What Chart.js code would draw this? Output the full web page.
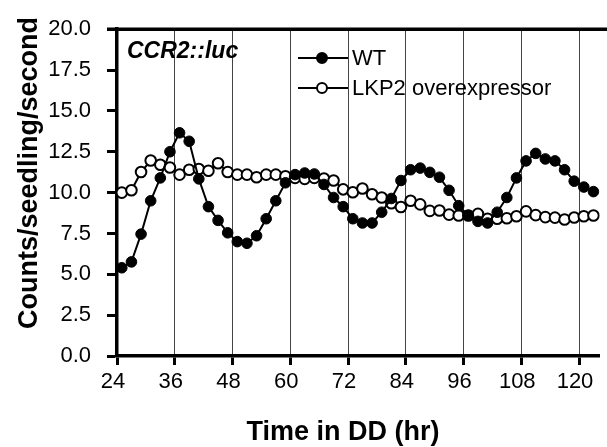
<!DOCTYPE html>
<html><head><meta charset="utf-8">
<script src="https://cdn.jsdelivr.net/npm/chart.js@4/dist/chart.umd.min.js"></script>
<style>html,body{margin:0;padding:0;background:#fff;} #wrap{width:607px;height:447px;position:relative;}</style>
</head><body><div id="wrap"><canvas id="c" width="607" height="447"></canvas></div>
<script>
const hours = [25,27,29,31,33,35,37,39,41,43,45,47,49,51,53,55,57,59,61,63,65,67,69,71,73,75,77,79,81,83,85,87,89,91,93,95,97,99,101,103,105,107,109,111,113,115,117,119,121,123];
const wtValues = [5.4,5.76,7.46,9.5,10.9,12.5,13.66,13.14,10.84,9.14,8.3,7.54,7.0,6.9,7.36,8.4,9.5,10.6,11.1,11.2,11.14,10.5,9.7,9.14,8.4,8.14,8.14,8.8,9.64,10.74,11.4,11.5,11.24,10.94,10.14,9.2,8.6,8.24,8.14,8.8,9.7,10.9,11.94,12.4,12.06,11.94,11.4,10.7,10.34,10.06];
const lkp2Values = [10.0,10.14,11.26,11.96,11.7,11.54,11.1,11.4,11.44,11.34,11.8,11.26,11.1,11.1,10.94,11.1,11.1,11.0,10.9,10.84,10.9,10.86,10.74,10.2,10.02,10.25,9.9,9.7,9.35,9.12,9.5,9.28,8.88,8.9,8.65,8.6,8.6,8.7,8.4,8.4,8.43,8.55,8.85,8.62,8.5,8.47,8.35,8.48,8.55,8.6];
const xTickValues = [24,36,48,60,72,84,96,108,120];
const yTickValues = [0,2.5,5,7.5,10,12.5,15,17.5,20];
const seriesNames = ['WT','LKP2 overexpressor'];
const panelLabel = 'CCR2::luc';
const xTitle = 'Time in DD (hr)';
const yTitle = 'Counts/seedling/second';

const FONT = '"Liberation Sans", Arial, Helvetica, sans-serif';

const decor = {
  id: 'decor',
  afterDraw(chart) {
    const ctx = chart.ctx, a = chart.chartArea;
    ctx.save();
    ctx.strokeStyle = '#000';
    ctx.lineWidth = 3.5;
    ctx.beginPath(); ctx.moveTo(107, a.top); ctx.lineTo(607, a.top); ctx.stroke();
    ctx.fillStyle = '#000';
    ctx.font = 'italic bold 23px ' + FONT;
    ctx.textAlign = 'left'; ctx.textBaseline = 'alphabetic';
    ctx.fillText(panelLabel, 127, 58);
    // legend
    const rows = [
      {y: 58, name: seriesNames[0], fill: '#000'},
      {y: 88, name: seriesNames[1], fill: '#fff'}
    ];
    rows.forEach(r => {
      ctx.lineWidth = 2; ctx.strokeStyle = '#000';
      ctx.beginPath(); ctx.moveTo(298, r.y); ctx.lineTo(348, r.y); ctx.stroke();
      ctx.beginPath(); ctx.arc(322, r.y, 5, 0, Math.PI * 2);
      ctx.fillStyle = r.fill; ctx.fill(); ctx.stroke();
      ctx.fillStyle = '#000';
      ctx.font = '22px ' + FONT;
      ctx.textBaseline = 'middle'; ctx.textAlign = 'left';
      ctx.fillText(r.name, 352, r.y + 1);
    });
    // axis titles
    ctx.fillStyle = '#000';
    ctx.font = 'bold 27px ' + FONT;
    ctx.textAlign = 'center'; ctx.textBaseline = 'alphabetic';
    ctx.fillText(xTitle, 343, 440);
    ctx.save();
    ctx.translate(37, 173);
    ctx.rotate(-Math.PI / 2);
    ctx.font = 'bold 27px ' + FONT;
    ctx.fillText(yTitle, 0, 0);
    ctx.restore();
    ctx.restore();
  }
};

new Chart(document.getElementById('c'), {
  type: 'line',
  data: {
    datasets: [
      {
        label: seriesNames[0],
        data: hours.map((h, i) => ({x: h, y: wtValues[i]})),
        borderColor: '#000', borderWidth: 2,
        pointRadius: 5.3, pointBackgroundColor: '#000', pointBorderColor: '#000', pointBorderWidth: 1,
        tension: 0, fill: false
      },
      {
        label: seriesNames[1],
        data: hours.map((h, i) => ({x: h, y: lkp2Values[i]})),
        borderColor: '#000', borderWidth: 2,
        pointRadius: 5.3, pointBackgroundColor: '#fff', pointBorderColor: '#000', pointBorderWidth: 2,
        tension: 0, fill: false
      }
    ]
  },
  options: {
    responsive: false,
    animation: false,
    devicePixelRatio: 1,
    layout: {padding: {top: 24, right: 0, left: 0, bottom: 0}},
    plugins: {legend: {display: false}, tooltip: {enabled: false}, title: {display: false}},
    scales: {
      x: {
        type: 'linear', min: 24, max: 124.3,
        afterFit(s) { s.height = 91; },
        afterBuildTicks(s) { s.ticks = xTickValues.map(v => ({value: v})); },
        ticks: {color: '#000', font: {size: 22, family: FONT}, padding: 4, labelOffset: -4, maxRotation: 0, autoSkip: false},
        grid: {display: true, drawOnChartArea: true, color: '#444', lineWidth: 1,
               drawTicks: true, tickLength: 9, tickWidth: 3, tickColor: '#000'},
        border: {display: true, color: '#000', width: 3.5}
      },
      y: {
        type: 'linear', min: 0, max: 20,
        afterFit(s) { s.width = 117; },
        afterBuildTicks(s) { s.ticks = yTickValues.map(v => ({value: v})); },
        ticks: {color: '#000', font: {size: 22, family: FONT}, padding: 16,
                callback: v => Number(v).toFixed(1)},
        grid: {display: true, drawOnChartArea: false, drawTicks: true, tickLength: 10, tickWidth: 3, tickColor: '#000'},
        border: {display: true, color: '#000', width: 3.5}
      }
    }
  },
  plugins: [decor]
});
</script>
</body></html>
